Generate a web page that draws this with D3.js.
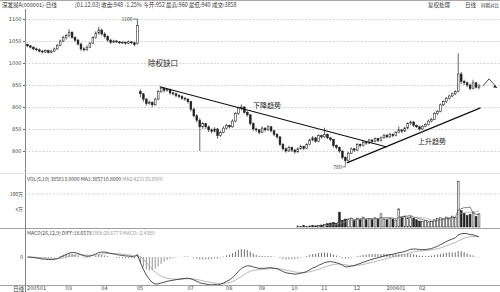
<!DOCTYPE html>
<html>
<head>
<meta charset="utf-8">
<script src="https://cdn.jsdelivr.net/npm/d3@7"></script>
<style>
  html, body { margin: 0; padding: 0; background: #fff; }
  svg { display: block; font-family: "Noto Sans CJK SC", "Noto Sans", sans-serif; }
</style>
</head>
<body>
<svg id="chart"></svg>
<script>
const width = 500;
const height = 292;

// price ticks (left axis)
const priceTicks = [800, 850, 900, 950, 1000, 1050, 1100];

// daily bars before the ex-rights gap: [open, high, low, close]
const kPre = [
  [1042,1044,1036,1039],[1039,1041,1033,1036],[1036,1038,1029,1032],[1032,1035,1027,1030],
  [1030,1033,1024,1027],[1027,1030,1022,1025],[1025,1031,1023,1028],[1028,1030,1021,1024],
  [1024,1030,1022,1027],[1027,1035,1025,1032],[1032,1043,1030,1040],[1040,1053,1038,1050],
  [1050,1062,1047,1058],[1058,1066,1053,1062],[1062,1077,1058,1070],[1070,1072,1055,1058],
  [1058,1061,1048,1052],[1052,1055,1040,1043],[1043,1046,1028,1032],[1032,1036,1026,1030],
  [1030,1040,1028,1036],[1036,1048,1034,1045],[1045,1061,1043,1058],[1058,1072,1055,1068],
  [1068,1082,1064,1075],[1075,1078,1062,1066],[1066,1070,1056,1060],[1060,1063,1048,1052],
  [1052,1055,1043,1047],[1047,1053,1045,1050],[1050,1052,1045,1048],[1048,1050,1043,1046],
  [1046,1050,1044,1047],[1047,1049,1042,1045],[1045,1051,1043,1048],[1048,1050,1043,1046],
  [1046,1048,1038,1042],[1045,1100,1042,1085]
];

// daily bars after the gap
const kPost = [
  [935,940,922,930],[930,932,912,918],[918,920,903,908],[908,915,905,910],[910,913,900,905],
  [905,921,903,918],[918,938,916,935],[935,947,932,943],[943,945,933,938],[938,943,935,940],
  [940,942,928,932],[932,935,926,930],[930,933,922,926],[926,929,920,924],[924,927,916,920],
  [920,923,914,918],[918,920,908,912],[912,914,890,895],[895,898,876,880],[880,884,865,870],
  [870,875,800,855],[855,866,850,862],[862,864,850,855],[855,858,843,848],[848,851,840,845],
  [845,854,842,850],[850,852,828,835],[835,846,832,842],[842,856,840,852],[852,862,849,858],
  [858,860,851,855],[855,872,853,868],[868,888,865,885],[885,901,882,898],[898,906,892,900],
  [900,902,885,888],[888,891,878,882],[882,884,858,862],[862,865,846,850],[850,853,843,848],
  [848,850,838,842],[842,856,840,852],[852,854,844,848],[848,859,846,855],[855,857,842,846],
  [846,848,834,838],[838,841,828,832],[832,834,811,815],[815,818,801,805],[805,808,796,800],
  [800,812,798,808],[808,810,798,802],[802,805,794,798],[798,808,796,805],[805,814,803,810],
  [810,812,802,806],[806,818,804,815],[815,828,813,825],[825,834,822,830],[830,832,819,822],
  [822,838,820,835],[835,837,828,832],[832,853,830,838],[838,840,827,830],[830,832,822,826],
  [826,828,808,812],[812,815,804,808],[808,810,796,800],[800,802,781,785],[785,788,774,778],
  [778,798,776,795],[795,808,793,805],[805,807,798,802],[802,818,800,815],[815,817,808,812],
  [812,823,810,820],[820,822,814,818],[818,828,816,825],[825,827,818,822],[822,831,820,828],
  [828,830,820,824],[824,833,822,830],[830,839,828,836],[836,838,829,832],[832,841,830,838],
  [838,840,831,835],[835,845,833,842],[842,856,840,848],[848,850,841,845],[845,855,843,852],
  [852,865,850,862],[862,869,859,866],[866,868,855,858],[858,860,852,855],[855,857,846,850],
  [850,859,848,856],[856,863,854,860],[860,871,858,868],[868,875,865,872],[872,888,870,885],
  [885,893,882,890],[890,908,888,905],[905,915,902,912],[912,923,909,920],[920,928,917,925],
  [925,933,922,930],[930,938,927,935],[935,1022,933,975],[975,980,952,958],[958,962,950,955],
  [955,958,945,950],[950,953,938,942],[942,962,940,955],[955,957,942,945],[945,952,940,948]
];

// volume (x10万) from bar index volStart on
const volStart = 91;
const vol = [
  3,2,4,2,3,5,3,4,6,8, 10,12,14,11,45,20,24,22,25,21,
  27,24,30,22,26,23,28,25,40,24, 22,27,24,21,55,30,33,28,31,26,
  22,18,16,19,15,17,22,26,28,25, 30,27,33,29,138,50,42,35,38,45,
  32,40
];

// month labels on the time axis
const monthLabels = ['200501', '03', '04', '05', '07', '08', '09', '10', '11', '12', '200601', '02'];
const monthIdx = [0, 13, 25, 37, 54, 67, 78, 89, 99, 110, 121, 132];

// hand drawn trend lines [index, price]
const downTrend = [[44.5, 946], [121, 809]];
const upTrend = [[107.5, 773], [152.5, 898]];

const bars = kPre.concat(kPost).map(([o, h, l, c], i) => ({ i, o, h, l, c }));

const svg = d3.select('#chart').attr('width', width).attr('height', height);

const x = d3.scaleLinear().domain([0, 152]).range([27.5, 479]);
const y = d3.scaleLinear().domain([800, 1100]).range([151, 19]);
const yVol = d3.scaleLinear().domain([0, 100]).range([227, 194]);
const yMacd = d3.scaleLinear().domain([-35, 35]).range([284, 230]);

const ink = '#222';
const fs = 5.5;

svg.append('defs').append('clipPath').attr('id', 'macdClip')
  .append('rect').attr('x', 25).attr('y', 229).attr('width', width - 25).attr('height', 56);

// frame
svg.append('line').attr('x1', 0).attr('x2', width).attr('y1', 0.5).attr('y2', 0.5).attr('stroke', '#aaa');
svg.append('line').attr('x1', 25.5).attr('x2', 25.5).attr('y1', 9).attr('y2', height).attr('stroke', '#666').attr('stroke-width', 0.8);
[173.5, 228.5, 285.5].forEach((yy, k) => {
  svg.append('line').attr('x1', 0).attr('x2', width).attr('y1', yy).attr('y2', yy)
    .attr('stroke', k === 0 ? '#ddd' : '#888').attr('stroke-width', 0.8);
});

// title row
svg.append('text').attr('x', 2).attr('y', 6.5).attr('font-size', fs).attr('fill', '#333').text('深发展A(000001)-日线');
svg.append('text').attr('x', 75).attr('y', 6.5).attr('font-size', fs).attr('fill', '#333')
  .text('[01.12.03] 收盘:948 -1.25% 今开:952 最高:960 最低:940 成交:3858');
svg.append('text').attr('x', 428).attr('y', 6.5).attr('font-size', fs).attr('fill', '#333').text('复权处理');
svg.append('text').attr('x', 465).attr('y', 6.5).attr('font-size', fs).attr('fill', '#333').text('日线');
svg.append('text').attr('x', 481).attr('y', 6.5).attr('font-size', 4.5).attr('fill', '#333').text('同期对比');

// price grid
svg.append('g')
  .attr('transform', 'translate(25,0)')
  .call(d3.axisRight(y).tickValues(priceTicks).tickSize(width - 25).tickFormat(''))
  .call(g => g.select('.domain').remove())
  .call(g => g.selectAll('line').attr('stroke', '#bbb').attr('stroke-width', 0.6).attr('stroke-dasharray', '2,1.5'));

svg.append('g')
  .attr('transform', 'translate(25,0)')
  .call(d3.axisLeft(y).tickValues(priceTicks).tickFormat(d3.format('d')).tickSize(2).tickPadding(1.5))
  .call(g => g.select('.domain').remove())
  .call(g => g.selectAll('line').attr('stroke', '#666'))
  .call(g => g.selectAll('text').attr('font-size', 5).attr('fill', '#444').attr('font-family', 'DejaVu Sans'));

// candles
const cg = svg.append('g');
cg.selectAll('.wick').data(bars).enter().append('line')
  .attr('x1', d => x(d.i)).attr('x2', d => x(d.i))
  .attr('y1', d => y(d.h)).attr('y2', d => y(d.l))
  .attr('stroke', ink).attr('stroke-width', 0.7);
cg.selectAll('.body').data(bars).enter().append('rect')
  .attr('x', d => x(d.i) - 0.9).attr('width', 1.8)
  .attr('y', d => y(Math.max(d.o, d.c)))
  .attr('height', d => Math.max(0.7, Math.abs(y(d.o) - y(d.c))))
  .attr('fill', d => d.c >= d.o ? '#fff' : ink)
  .attr('stroke', ink).attr('stroke-width', 0.55);

// trend lines
const tl = d3.line().x(d => x(d[0])).y(d => y(d[1]));
[downTrend, upTrend].forEach(t => {
  svg.append('path').attr('d', tl(t)).attr('fill', 'none').attr('stroke', '#111').attr('stroke-width', 1.1);
});

// annotations
svg.append('text').attr('x', 148).attr('y', 66).attr('font-size', 7.5).attr('fill', '#222').text('除权缺口');
svg.append('text').attr('x', 253).attr('y', 107.5).attr('font-size', 7).attr('fill', '#222').text('下降趋势');
svg.append('text').attr('x', 418).attr('y', 143.5).attr('font-size', 7).attr('fill', '#222').text('上升趋势');

const hiBar = bars[37];
svg.append('text').attr('x', x(hiBar.i) - 16).attr('y', y(hiBar.h) + 1.8).attr('font-size', 5).attr('fill', '#333').text('1100');
svg.append('line').attr('x1', x(hiBar.i) - 4).attr('x2', x(hiBar.i)).attr('y1', y(hiBar.h)).attr('y2', y(hiBar.h)).attr('stroke', '#333').attr('stroke-width', 0.6);

const loBar = bars[107];
svg.append('text').attr('x', x(loBar.i) - 12).attr('y', y(loBar.l) + 6.5).attr('font-size', 5).attr('fill', '#333').text('780');
svg.append('path')
  .attr('d', `M${x(loBar.i) - 3},${y(loBar.l) + 4.5}H${x(loBar.i)}V${y(loBar.l)}`)
  .attr('fill', 'none').attr('stroke', '#333').attr('stroke-width', 0.6);

// zigzag arrow at the right edge
const last = bars[bars.length - 1];
const ax0 = x(last.i) + 4, ay0 = y(last.c);
const arrowPts = [[ax0, ay0], [ax0 + 6, ay0 - 7], [ax0 + 14, ay0 + 2]];
svg.append('path').attr('d', d3.line()(arrowPts)).attr('fill', 'none').attr('stroke', '#222').attr('stroke-width', 0.8);
svg.append('path')
  .attr('d', `M${ax0 + 14},${ay0 + 2}l-4,-0.6l2,-2.4z`)
  .attr('fill', '#222');

// volume panel
svg.append('text').attr('x', 27).attr('y', 181).attr('font-size', 5).attr('fill', '#444')
  .text('VOL(5,10) 385813.0000 MA1:385710.8000 ')
  .append('tspan').attr('fill', '#999').text('MA2:423135.6000');

svg.append('line').attr('x1', 25).attr('x2', width).attr('y1', yVol(100)).attr('y2', yVol(100))
  .attr('stroke', '#bbb').attr('stroke-width', 0.6).attr('stroke-dasharray', '2,1.5');
svg.append('text').attr('x', 23).attr('y', yVol(100) + 1.8).attr('text-anchor', 'end').attr('font-size', 5).attr('fill', '#444').text('100万');
svg.append('text').attr('x', 23).attr('y', 211).attr('text-anchor', 'end').attr('font-size', 5).attr('fill', '#444').text('x万');

const vbars = vol.map((v, k) => ({ i: volStart + k, v, up: bars[volStart + k].c >= bars[volStart + k].o }));
svg.append('g').selectAll('rect').data(vbars).enter().append('rect')
  .attr('x', d => x(d.i) - 0.9).attr('width', 1.8)
  .attr('y', d => yVol(d.v)).attr('height', d => yVol(0) - yVol(d.v))
  .attr('fill', d => d.up ? '#fff' : ink)
  .attr('stroke', ink).attr('stroke-width', 0.55);

function movingAvg(arr, n) {
  return arr.map((v, k) => k < n - 1 ? null : d3.mean(arr.slice(k - n + 1, k + 1)));
}
[[5, '#333'], [10, '#999']].forEach(([n, col]) => {
  const ma = movingAvg(vol, n);
  svg.append('path')
    .attr('d', d3.line().defined(d => d != null).x((d, k) => x(volStart + k)).y(d => yVol(d))(ma))
    .attr('fill', 'none').attr('stroke', col).attr('stroke-width', 0.6);
});

// MACD panel
function ema(arr, n) {
  const a = 2 / (n + 1);
  let e = arr[0];
  return arr.map(v => (e = e + a * (v - e)));
}
const closes = bars.map(d => d.c);
const e12 = ema(closes, 12), e26 = ema(closes, 26);
const diff = e12.map((v, k) => v - e26[k]);
const dea = ema(diff, 9);
const hist = diff.map((v, k) => v - dea[k]);

svg.append('text').attr('x', 27).attr('y', 235).attr('font-size', 5).attr('fill', '#444')
  .text('MACD(26,12,9) DIFF:18.6578 ')
  .append('tspan').attr('fill', '#999').text('DEA:20.6773 MACD:-2.4389');

svg.append('text').attr('x', 23).attr('y', yMacd(0) + 1.8).attr('text-anchor', 'end').attr('font-size', 5).attr('fill', '#444').text('0');

const mg = svg.append('g').attr('clip-path', 'url(#macdClip)');
mg.selectAll('line').data(hist).enter().append('line')
  .attr('x1', (d, k) => x(k)).attr('x2', (d, k) => x(k))
  .attr('y1', yMacd(0)).attr('y2', d => yMacd(d))
  .attr('stroke', d => d >= 0 ? '#333' : '#666').attr('stroke-width', 0.7);

const ml = d3.line().x((d, k) => x(k)).y(d => yMacd(d));
mg.append('path').attr('d', ml(dea)).attr('fill', 'none').attr('stroke', '#999').attr('stroke-width', 0.7);
mg.append('path').attr('d', ml(diff)).attr('fill', 'none').attr('stroke', '#222').attr('stroke-width', 0.8);

// time axis
svg.append('text').attr('x', 13).attr('y', 290.5).attr('font-size', 5.5).attr('fill', '#333').text('日线');
svg.append('g')
  .attr('transform', 'translate(0,285.5)')
  .call(d3.axisBottom(x).tickValues(monthIdx).tickFormat((d, k) => monthLabels[k]).tickSize(0).tickPadding(1))
  .call(g => g.select('.domain').remove())
  .call(g => g.selectAll('text').attr('font-size', 5).attr('fill', '#444').attr('text-anchor', 'start')
    .attr('dx', -1).attr('font-family', 'DejaVu Sans'));
</script>
</body>
</html>
